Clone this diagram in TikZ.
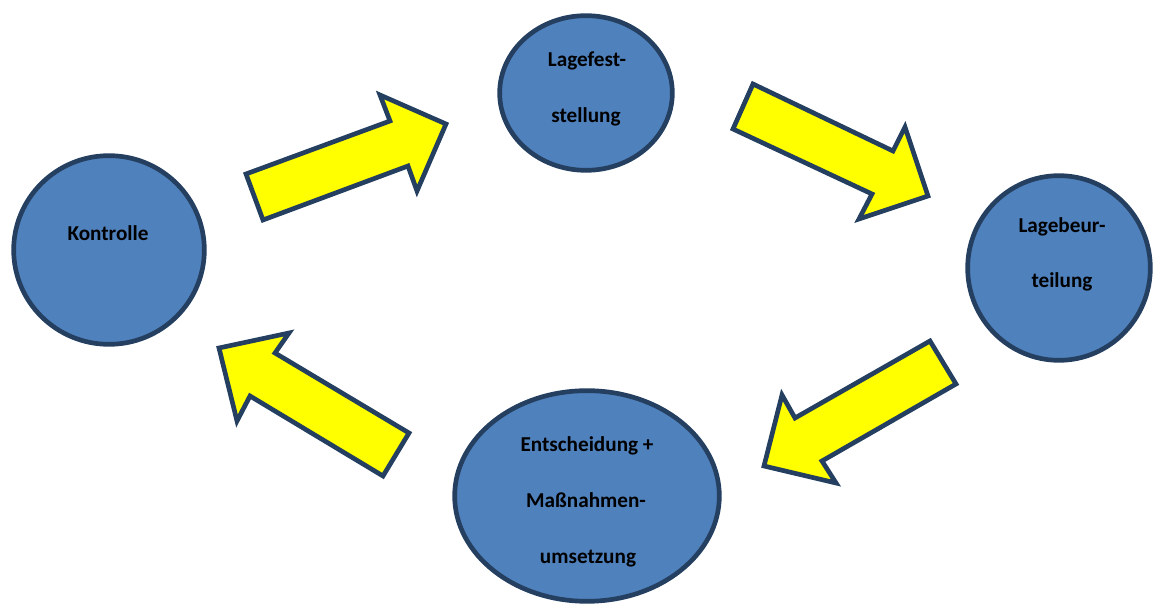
\documentclass[tikz,border=0pt]{standalone}
\usepackage{fontspec}
\setmainfont{Carlito}
\usetikzlibrary{shapes.geometric}
\definecolor{circfill}{HTML}{4F81BD}
\definecolor{darkline}{HTML}{243F60}
\definecolor{arrowyellow}{HTML}{FFFF00}
\tikzset{
  phase/.style={ellipse, draw=darkline, fill=circfill, line width=3.5pt, inner sep=0pt},
  lbl/.style={anchor=base, font=\fontsize{15.9}{18}\selectfont\bfseries, text=black, inner sep=0pt},
  blockarrow/.style={draw=darkline, fill=arrowyellow, line width=3.5pt, line join=miter}
}
\begin{document}
\begin{tikzpicture}[x=0.75pt, y=-0.75pt]
\useasboundingbox (0,0) rectangle (1154,605);
% circles
\node[phase, minimum width=143pt, minimum height=141.5pt] (kon) at (109,250) {};
\node[phase, minimum width=129.5pt, minimum height=116pt] (fest) at (586,93) {};
\node[phase, minimum width=137pt, minimum height=138.5pt] (beur) at (1059,268) {};
\node[phase, minimum width=198.5pt, minimum height=158pt] (ent) at (587,496) {};
% labels
\node[lbl] (t1) at (108,241) {Kontrolle};
\node[lbl] (t2) at (587,67) {Lagefest-};
\node[lbl] (t3) at (586,123) {stellung};
\node[lbl] (t4) at (1062,233) {Lagebeur-};
\node[lbl] (t5) at (1062,288) {teilung};
\node[lbl] (t6) at (587,452) {Entscheidung +};
\node[lbl] (t7) at (586,508) {Maßnahmen-};
\node[lbl] (t8) at (588,564) {umsetzung};
% block arrows
\draw[blockarrow] (263,220) -- (246,174) -- (390,121) -- (380,95) -- (446,124) -- (417,191) -- (408,166) -- cycle;
\draw[blockarrow] (753,84) -- (733,129) -- (872,194) -- (859,219) -- (928,196) -- (905,127) -- (893,151) -- cycle;
\draw[blockarrow] (930,341) -- (956,384) -- (822,461) -- (836,483) -- (764,466) -- (782,395) -- (795,418) -- cycle;
\draw[blockarrow] (219,348) -- (289,333) -- (275,353) -- (409,433) -- (383,476) -- (250,396) -- (237,421) -- cycle;
\end{tikzpicture}
\end{document}
